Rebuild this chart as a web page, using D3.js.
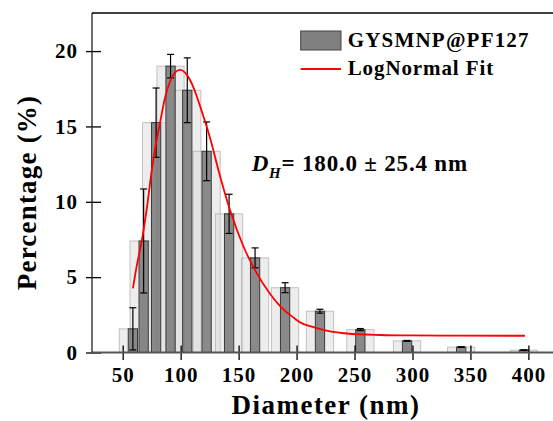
<!DOCTYPE html>
<html>
<head>
<meta charset="utf-8">
<script src="https://cdn.jsdelivr.net/npm/d3@7"></script>
<style>
  html, body { margin: 0; padding: 0; background: #fff; }
  svg { display: block; }
  text { font-family: "Liberation Serif", "Times New Roman", serif; font-weight: bold; fill: #000; }
</style>
</head>
<body>
<svg id="chart" width="553" height="421"></svg>
<script>
// Size distribution (DLS bins, nm) with mean percentage and standard deviation
const diameters  = [58.77, 68.06, 78.82, 91.28, 105.7, 122.4, 141.8, 164.2, 190.1, 220.2, 255.0, 295.3, 342.0, 396.1];
const percentages = [1.57, 7.4, 15.25, 19.0, 17.4, 13.35, 9.2, 6.28, 4.3, 2.74, 1.52, 0.77, 0.36, 0.16];
const errors     = [1.4, 3.45, 2.3, 0.78, 2.15, 1.95, 1.3, 0.66, 0.33, 0.13, 0.07, 0.03, 0.02, 0.02];

// LogNormal fit curve
const fitD = [58.8, 62, 66.9, 71.3, 75.1, 78.8, 82.2, 86.5, 90.9, 95.2, 99.5, 103.8, 108.1, 112.4, 116.7, 121, 125.3, 134, 142.6, 154.1, 165.6, 177.1, 188.6, 197.2, 203, 214.5, 228.9, 243.3, 272, 298, 340, 397];
const fitY = [4.25, 5.7, 7.6, 9.85, 12.1, 13.9, 15.25, 16.9, 18.0, 18.58, 18.75, 18.57, 18.08, 17.32, 16.36, 15.34, 14.25, 11.7, 9.45, 7.05, 5.27, 3.9, 2.86, 2.33, 2.0, 1.68, 1.4, 1.26, 1.16, 1.13, 1.12, 1.11];

const xTicks = [50, 100, 150, 200, 250, 300, 350, 400];
const yTicks = [0, 5, 10, 15, 20];

const seriesName = "GYSMNP@PF127";
const fitName = "LogNormal Fit";

const svg = d3.select("#chart");

const plotLeft = 92, plotRight = 553, plotTop = 13, plotBottom = 352.5;
const x = d3.scaleLinear().domain([50, 400]).range([122.7, 528.4]);
const y = d3.scaleLinear().domain([0, 22.5]).range([plotBottom, 13.4]);

const wideBin = 23.5, narrowBin = 8;
const rows = diameters.map((d, i) => ({ d, p: percentages[i], e: errors[i] }));

// wide translucent bars
svg.append("g").selectAll("rect").data(rows).join("rect")
  .attr("x", r => x(r.d - wideBin / 2))
  .attr("width", x(wideBin) - x(0))
  .attr("y", r => y(r.p))
  .attr("height", r => y(0) - y(r.p))
  .attr("fill", "rgba(215,215,215,0.45)")
  .attr("stroke", "rgba(160,160,160,0.6)")
  .attr("stroke-width", 1);

// narrow dark bars
svg.append("g").selectAll("rect").data(rows).join("rect")
  .attr("x", r => x(r.d - narrowBin / 2))
  .attr("width", x(narrowBin) - x(0))
  .attr("y", r => y(r.p))
  .attr("height", r => y(0) - y(r.p))
  .attr("fill", "rgba(120,120,120,0.85)")
  .attr("stroke", "#3a3a3a")
  .attr("stroke-width", 1);

// error bars
const eb = svg.append("g").attr("stroke", "#000").attr("stroke-width", 1.2);
rows.forEach(r => {
  const cx = x(r.d);
  const hi = y(r.p + r.e), lo = y(Math.max(0, r.p - r.e));
  eb.append("line").attr("x1", cx).attr("x2", cx).attr("y1", hi).attr("y2", lo);
  eb.append("line").attr("x1", cx - 3.5).attr("x2", cx + 3.5).attr("y1", hi).attr("y2", hi);
  eb.append("line").attr("x1", cx - 3.5).attr("x2", cx + 3.5).attr("y1", lo).attr("y2", lo);
});

// fit curve
const line = d3.line().x((d, i) => x(fitD[i])).y((d, i) => y(fitY[i])).curve(d3.curveMonotoneX);
svg.append("path").datum(fitD).attr("d", line)
  .attr("fill", "none").attr("stroke", "#ff0000").attr("stroke-width", 1.8);

// axes
const xAxis = svg.append("g").attr("transform", `translate(0,${plotBottom})`)
  .call(d3.axisBottom(x).tickValues(xTicks).tickSize(7.5).tickPadding(5));
xAxis.select(".domain").remove();
xAxis.selectAll(".tick line").attr("y1", -7).attr("stroke", "#000").attr("stroke-width", 1.3);
xAxis.selectAll(".tick text").attr("font-size", 21).attr("letter-spacing", 1)
  .attr("font-family", "Liberation Serif").attr("font-weight", "bold").attr("dy", "0.82em");

const yAxis = svg.append("g").attr("transform", `translate(${plotLeft},0)`)
  .call(d3.axisLeft(y).tickValues(yTicks).tickSize(6).tickPadding(8));
yAxis.select(".domain").remove();
yAxis.selectAll(".tick line").attr("x1", 9).attr("stroke", "#000").attr("stroke-width", 1.3);
yAxis.selectAll(".tick text").attr("font-size", 21).attr("letter-spacing", 1)
  .attr("font-family", "Liberation Serif").attr("font-weight", "bold");

// frame lines
svg.append("line").attr("x1", plotLeft).attr("x2", plotRight).attr("y1", plotBottom).attr("y2", plotBottom)
  .attr("stroke", "#555").attr("stroke-width", 1.8);
svg.append("line").attr("x1", plotLeft).attr("x2", plotLeft).attr("y1", plotTop).attr("y2", plotBottom)
  .attr("stroke", "#222").attr("stroke-width", 1.3);
svg.append("line").attr("x1", plotLeft).attr("x2", plotRight).attr("y1", plotTop).attr("y2", plotTop)
  .attr("stroke", "#000").attr("stroke-width", 1.5);

// axis titles
svg.append("text").attr("x", 326).attr("y", 414).attr("text-anchor", "middle")
  .attr("font-size", 27).attr("letter-spacing", 1.5).text("Diameter (nm)");
svg.append("text").attr("transform", "translate(36,192.5) rotate(-90)").attr("text-anchor", "middle")
  .attr("font-size", 27).attr("letter-spacing", 1.2).text("Percentage (%)");

// legend
const lg = svg.append("g");
lg.append("rect").attr("x", 300.7).attr("y", 31).attr("width", 40.3).attr("height", 19)
  .attr("fill", "#808080").attr("stroke", "#444").attr("stroke-width", 1);
lg.append("text").attr("x", 347.7).attr("y", 47).attr("font-size", 21).attr("letter-spacing", 1.2).text(seriesName);
lg.append("line").attr("x1", 300.7).attr("x2", 341).attr("y1", 69).attr("y2", 69)
  .attr("stroke", "#ff0000").attr("stroke-width", 1.8);
lg.append("text").attr("x", 347.7).attr("y", 75).attr("font-size", 21).attr("letter-spacing", 0.9).text(fitName);

// hydrodynamic diameter annotation
const ann = svg.append("text").attr("x", 251.7).attr("y", 171).attr("font-size", 23).attr("letter-spacing", 0.8);
ann.append("tspan").attr("font-style", "italic").text("D");
ann.append("tspan").attr("font-style", "italic").attr("font-size", 15).attr("dy", 7).text("H");
ann.append("tspan").attr("dy", -7).text("= 180.0 \u00b1 25.4 nm");
</script>
</body>
</html>
